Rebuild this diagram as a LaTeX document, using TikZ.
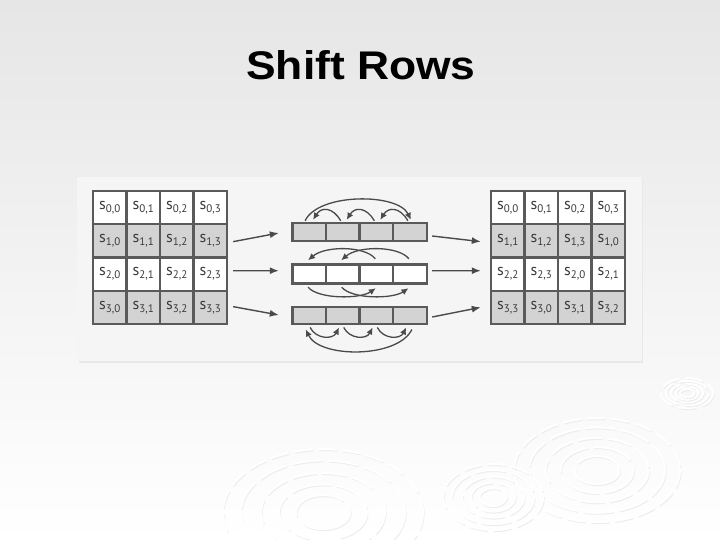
\documentclass[tikz,border=0pt]{standalone}
\usepackage{fontspec}
\usepackage{graphicx}
\setmainfont{Liberation Sans}
\newfontfamily\cellfont{PT Sans}
\usetikzlibrary{arrows.meta}
\definecolor{gridc}{HTML}{5A5A5A}
\definecolor{shadec}{HTML}{D3D3D3}
\definecolor{panelc}{HTML}{F5F5F5}
\definecolor{txtc}{HTML}{3A3A3A}
\definecolor{arrc}{HTML}{4A4A4A}
\definecolor{bgtop}{HTML}{E6E6E6}
\definecolor{bgmid}{HTML}{EBEBEB}
\newcommand\sv[2]{s\raisebox{-3.2pt}{\fontsize{11}{11}\selectfont#1,#2}}
\begin{document}
\begin{tikzpicture}[x=1pt,y=-1pt,
  cell/.style={draw=gridc, line width=2.4pt, minimum width=33.5pt, minimum height=33.25pt,
    inner sep=0pt, font=\cellfont\fontsize{16}{16}\selectfont, text=txtc},
  barcell/.style={draw=gridc, line width=2.4pt, minimum width=33.6pt, inner sep=0pt},
  arcln/.style={draw=arrc, line width=1.3pt, -{Latex[length=7pt,width=6.5pt]}},
  connln/.style={draw=arrc, line width=1.4pt, -{Latex[length=9pt,width=7pt]}},
  ripw/.style={draw=white, line width=2pt},
  ripg/.style={draw=black!7, line width=1.2pt},
  titlefont/.style={font=\bfseries\fontsize{40}{40}\selectfont, anchor=base}]
\useasboundingbox (0,0) rectangle (720,540);
% background
\shade[top color=bgtop, middle color=bgmid, bottom color=white] (0,0) rectangle (720,540);
% ripples
\foreach \cx/\cy/\rx/\ry in {597/470/83/52, 493/497/50/33, 323/512/100/63, 687/393/26/15}{
  \foreach \s/\d in {1/18, 0.82/30, 0.62/24, 0.44/40, 0.27/60}{
    \draw[ripg, dash pattern=on \d pt off 6pt] (\cx+1,\cy+1.5) ellipse [x radius=\s*\rx, y radius=\s*\ry];
    \draw[ripw, dash pattern=on \d pt off 6pt] (\cx,\cy) ellipse [x radius=\s*\rx, y radius=\s*\ry];
  }
}
% title
\node[titlefont, text=black] (title) at (361,80) {\scalebox{1.11}[1]{Shift Rows}};
% panel
\fill[black!9] (78.8,178.2) rectangle (643.2,362.5);
\fill[panelc] (77.3,176.7) rectangle (641.7,361);
% left grid
\foreach \r in {0,...,3}{
  \foreach \c in {0,...,3}{
    \ifodd\r\def\fc{shadec}\else\def\fc{white}\fi
    \node[cell, fill=\fc] (L-\r-\c) at (109.75+33.5*\c, 207.6+33.25*\r) {\sv{\r}{\c}};
  }
}
% right grid
\foreach \r in {0,...,3}{
  \foreach \c in {0,...,3}{
    \ifodd\r\def\fc{shadec}\else\def\fc{white}\fi
    \pgfmathtruncatemacro\k{mod(\c+\r,4)}
    \node[cell, fill=\fc] (R-\r-\c) at (507.75+33.5*\c, 207.6+33.25*\r) {\sv{\r}{\k}};
  }
}
% bars
\foreach \c in {0,...,3}{
  \node[barcell, fill=shadec, minimum height=18pt] (B1-\c) at (309.1+33.6*\c, 232) {};
  \node[barcell, fill=white, minimum height=19pt] (B2-\c) at (309.1+33.6*\c, 274) {};
  \node[barcell, fill=shadec, minimum height=17.5pt] (B3-\c) at (309.1+33.6*\c, 315.5) {};
}
% bar 1 arcs (shift by 1)
\foreach \i/\j in {0/1,1/2,2/3}{
  \draw[arcln] ([xshift=-2pt,yshift=1pt]B1-\j.north) .. controls +(-8,-14) and +(8,-13) .. ([xshift=4pt,yshift=2pt]B1-\i.north);
}
\draw[arcln] ([xshift=-4pt,yshift=1pt]B1-0.north) .. controls +(13,-28) and +(-13,-27) .. ([xshift=1pt,yshift=2pt]B1-3.north);
% bar 2 arcs (shift by 2)
\draw[arcln] ([xshift=-1pt,yshift=4.5pt]B2-2.north) .. controls +(-10,-13) and +(17,-14.7) .. ([xshift=-1pt,yshift=3pt]B2-0.north);
\draw[arcln] ([xshift=-1pt,yshift=4.5pt]B2-3.north) .. controls +(-10,-13) and +(17,-14.7) .. ([xshift=-1.5pt,yshift=3pt]B2-1.north);
\draw[arcln] ([xshift=-1pt,yshift=-2.5pt]B2-0.south) .. controls +(10,12) and +(-16,11) .. ([xshift=-0.5pt,yshift=-3.5pt]B2-2.south);
\draw[arcln] ([xshift=-1pt,yshift=-2.5pt]B2-1.south) .. controls +(10,12) and +(-16,11) .. ([xshift=-1.5pt,yshift=-3.5pt]B2-3.south);
% bar 3 arcs (shift by 3)
\foreach \i/\j in {0/1,1/2,2/3}{
  \draw[arcln] ([xshift=1pt,yshift=-2pt]B3-\i.south) .. controls +(6,12) and +(-6,12) .. ([xshift=-3.7pt,yshift=-2pt]B3-\j.south);
}
\draw[arcln] ([xshift=2pt,yshift=-4pt]B3-3.south) .. controls +(-14,29) and +(14,29) .. ([xshift=-3.4pt,yshift=-4pt]B3-0.south);
% connectors grid -> bars
\draw[connln] ([xshift=5pt,yshift=-0.8pt]L-1-3.east) -- ([xshift=-12.3pt,yshift=-1pt]B1-0.west);
\draw[connln] ([xshift=5pt,yshift=3.4pt]L-2-3.east) -- ([xshift=-12.3pt,yshift=3.3pt]B2-0.west);
\draw[connln] ([xshift=5pt,yshift=0.7pt]L-3-3.east) -- ([xshift=-12.3pt,yshift=0.5pt]B3-0.west);
% connectors bars -> grid
\draw[connln] ([xshift=4.3pt,yshift=-4pt]B1-3.east) -- ([xshift=-9pt,yshift=-0.8pt]R-1-0.west);
\draw[connln] ([xshift=4.3pt,yshift=3.3pt]B2-3.east) -- ([xshift=-9pt,yshift=3.4pt]R-2-0.west);
\draw[connln] ([xshift=4.3pt,yshift=-1.5pt]B3-3.east) -- ([xshift=-9pt,yshift=0pt]R-3-0.west);
\end{tikzpicture}
\end{document}
